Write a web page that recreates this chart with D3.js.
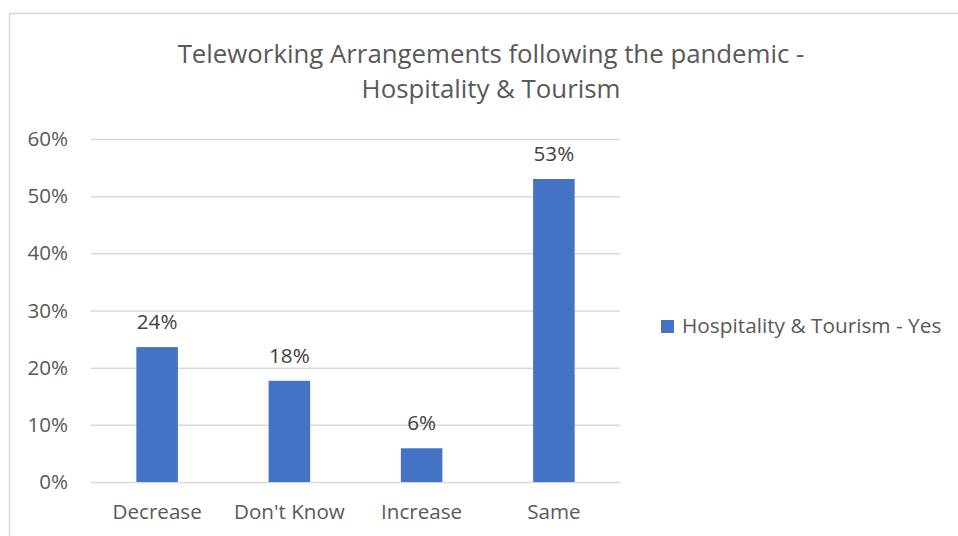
<!DOCTYPE html>
<html>
<head>
<meta charset="utf-8">
<script src="https://cdn.jsdelivr.net/npm/d3@7"></script>
<style>
  html, body { margin: 0; padding: 0; background: #fff; }
  svg { display: block; font-family: "Open Sans", "Noto Sans", sans-serif; }
</style>
</head>
<body>
<svg id="chart" width="958" height="536"></svg>
<script>
// Survey responses: share of respondents per teleworking outcome
const categories = ["Decrease", "Don't Know", "Increase", "Same"];
const values = [0.236, 0.177, 0.059, 0.53];
const yTicks = [0, 0.1, 0.2, 0.3, 0.4, 0.5, 0.6];
const seriesName = "Hospitality & Tourism - Yes";
const titleLines = ["Teleworking Arrangements following the pandemic -", "Hospitality & Tourism"];

const svg = d3.select("#chart");
const W = 958, H = 536;
const plot = { left: 91, right: 620, top: 139, bottom: 482 };
const barColor = "#4472C4";
const labelSize = 20.6;

// Chart frame
svg.append("rect")
  .attr("x", 9.5).attr("y", 13.5)
  .attr("width", W + 20).attr("height", H + 20)
  .attr("fill", "#fff").attr("stroke", "#d9d9d9").attr("stroke-width", 1.5);

// Title
const title = svg.append("text")
  .attr("text-anchor", "middle")
  .attr("fill", "#595959")
  .attr("font-size", 25.8);
titleLines.forEach((t, i) => {
  title.append("tspan").attr("x", 491).attr("y", 63 + i * 34.5).text(t);
});

const x = d3.scaleBand()
  .domain(categories)
  .range([plot.left, plot.right])
  .paddingInner(0.686)
  .paddingOuter(0.343);

const y = d3.scaleLinear()
  .domain([0, 0.6])
  .range([plot.bottom, plot.top]);

const pct = d3.format(".0%");

// Gridlines and y tick labels
const yAxis = d3.axisLeft(y)
  .tickValues(yTicks)
  .tickFormat(pct)
  .tickSize(-(plot.right - plot.left))
  .tickPadding(23);
const gy = svg.append("g")
  .attr("transform", `translate(${plot.left},0)`)
  .call(yAxis);
gy.select(".domain").remove();
gy.selectAll(".tick line").attr("stroke", "#d9d9d9").attr("stroke-width", 1.5);
gy.selectAll(".tick text")
  .attr("fill", "#595959")
  .attr("font-size", labelSize)
  .attr("font-family", "'Open Sans', sans-serif");

// Category axis labels
const xAxis = d3.axisBottom(x).tickSize(0).tickPadding(22);
const gx = svg.append("g")
  .attr("transform", `translate(0,${plot.bottom})`)
  .call(xAxis);
gx.select(".domain").remove();
gx.selectAll(".tick text")
  .attr("fill", "#595959")
  .attr("font-size", labelSize)
  .attr("font-family", "'Open Sans', sans-serif");

// Bars
svg.append("g").selectAll("rect")
  .data(values)
  .join("rect")
  .attr("x", (d, i) => x(categories[i]))
  .attr("y", d => y(d))
  .attr("width", x.bandwidth())
  .attr("height", d => y(0) - y(d))
  .attr("fill", barColor);

// Value labels
svg.append("g").selectAll("text")
  .data(values)
  .join("text")
  .attr("x", (d, i) => x(categories[i]) + x.bandwidth() / 2)
  .attr("y", d => y(d) - 18)
  .attr("text-anchor", "middle")
  .attr("fill", "#404040")
  .attr("font-size", labelSize)
  .text(d => pct(d));

// Legend
const legend = svg.append("g").attr("transform", "translate(661,320)");
legend.append("rect")
  .attr("width", 13).attr("height", 13)
  .attr("fill", barColor);
legend.append("text")
  .attr("x", 21).attr("y", 13)
  .attr("fill", "#595959")
  .attr("font-size", 20.8)
  .text(seriesName);
</script>
</body>
</html>
